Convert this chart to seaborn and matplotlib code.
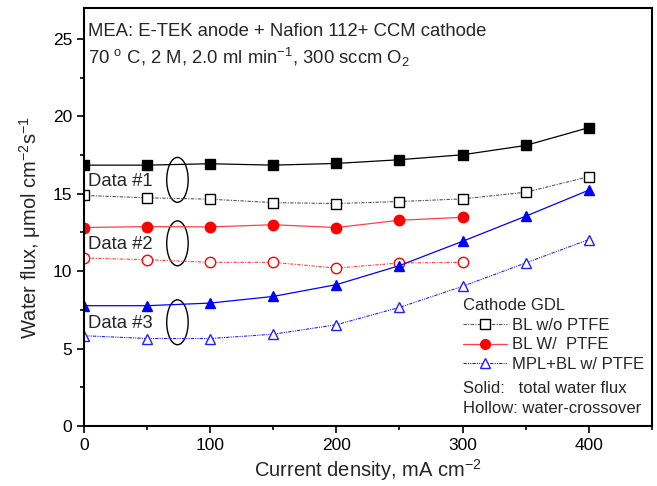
import numpy as np
import pandas as pd
import matplotlib.pyplot as plt
import seaborn as sns
from matplotlib.patches import Ellipse
from matplotlib.lines import Line2D
from matplotlib.ticker import MultipleLocator

sns.set_theme(style="ticks")
plt.rcParams['font.family'] = ['Liberation Sans', 'DejaVu Sans']
plt.rcParams['mathtext.fontset'] = 'custom'
plt.rcParams['mathtext.rm'] = 'Liberation Sans'
plt.rcParams['mathtext.it'] = 'Liberation Sans'

# data
current = [0, 50, 100, 150, 200, 250, 300, 350, 400]
bl_no_ptfe_total = [16.85, 16.85, 16.94, 16.85, 16.96, 17.2, 17.52, 18.12, 19.27]
bl_no_ptfe_cross = [14.89, 14.74, 14.65, 14.43, 14.37, 14.5, 14.67, 15.1, 16.1]
current_bl = [0, 50, 100, 150, 200, 250, 300]
bl_ptfe_total = [12.82, 12.88, 12.86, 13.0, 12.82, 13.29, 13.48]
bl_ptfe_cross = [10.85, 10.74, 10.57, 10.57, 10.2, 10.53, 10.57]
mpl_total = [7.77, 7.77, 7.94, 8.37, 9.13, 10.36, 11.93, 13.55, 15.23]
mpl_cross = [5.83, 5.65, 5.65, 5.93, 6.54, 7.66, 9.02, 10.53, 12.04]

labels = ['BL w/o PTFE', 'BL W/  PTFE', 'MPL+BL w/ PTFE']

fig = plt.figure(figsize=(6.57, 4.86), dpi=100)
ax = fig.add_axes([0.128, 0.1235, 0.864, 0.86])

dd = (0, (3, 1.2, 1, 1.2))
ddd = (0, (3, 1, 1, 1, 1, 1))

series = [
    (current, bl_no_ptfe_total, 'black', 's', True, '-', 0.9),
    (current, bl_no_ptfe_cross, '#555555', 's', False, dd, 0.8),
    (current_bl, bl_ptfe_total, '#ff4040', 'o', True, '-', 0.9),
    (current_bl, bl_ptfe_cross, '#ff4040', 'o', False, dd, 0.8),
    (current, mpl_total, '#0000ff', '^', True, '-', 0.9),
    (current, mpl_cross, '#2020ff', '^', False, ddd, 0.8),
]
for x, y, c, m, filled, ls, lw in series:
    df = pd.DataFrame({'x': x, 'y': y})
    mc = c if not c.startswith('#55') else 'black'
    if m == 'o':
        mc = '#ff0000'
    sns.lineplot(data=df, x='x', y='y', ax=ax, color=c, linestyle=ls, lw=lw,
                 marker=m, markersize=7 if m != 'o' else 7.5,
                 markerfacecolor=(mc if filled else 'white'),
                 markeredgecolor=mc, markeredgewidth=1.0)

ax.set_xlim(0, 450)
ax.set_ylim(0, 27)
ax.xaxis.set_major_locator(MultipleLocator(100))
ax.xaxis.set_minor_locator(MultipleLocator(50))
ax.yaxis.set_major_locator(MultipleLocator(5))
ax.yaxis.set_minor_locator(MultipleLocator(2.5))
ax.tick_params(which='both', direction='out', width=1.2, labelsize=12.5, colors='black')
ax.tick_params(which='major', length=5)
ax.tick_params(which='minor', length=3)
for s in ax.spines.values():
    s.set_linewidth(1.5)
    s.set_color('black')

ax.set_xlabel('Current density, mA cm$^{-2}$', fontsize=14.5, labelpad=3)
ax.set_ylabel('Water flux, $\\mu$mol cm$^{-2}$s$^{-1}$', fontsize=14.5)
ax.yaxis.set_label_coords(-0.072, 0.474)

ax.text(3, 25.5, 'MEA: E-TEK anode + Nafion 112+ CCM cathode', fontsize=13.3, va='center')
ax.text(3, 23.8, '70 $^{\\rm o}$ C, 2 M, 2.0 ml min$^{-1}$, 300 sccm O$_2$', fontsize=13.3, va='center')

ellipse_y = [15.9, 11.8, 6.7]
for i, ey in enumerate(ellipse_y):
    ax.add_patch(Ellipse((74, ey), 17, 2.9, fill=False, ec='black', lw=1))
    ax.text(3, ey - 0.1, f'Data #{i + 1}', fontsize=13.3, va='center')

handles = [
    Line2D([], [], color='#555555', ls=dd, lw=0.8, marker='s', mfc='white', mec='black', ms=6.5),
    Line2D([], [], color='#ff4040', ls='-', lw=0.9, marker='o', mfc='#ff0000', mec='#ff0000', ms=7),
    Line2D([], [], color='#2020ff', ls=ddd, lw=0.8, marker='^', mfc='white', mec='#2020ff', ms=6.5),
]
leg = ax.legend(handles, labels, title='Cathode GDL', loc='upper left',
                bbox_to_anchor=(0.668, 0.306), frameon=False, fontsize=12,
                title_fontsize=12, handlelength=2.6, handletextpad=0.3,
                labelspacing=0.28, borderaxespad=0, borderpad=0, alignment='left')
ax.text(0.668, 0.090, 'Solid:   total water flux', transform=ax.transAxes, fontsize=12, va='center')
ax.text(0.668, 0.043, 'Hollow: water-crossover', transform=ax.transAxes, fontsize=12, va='center')

fig.savefig('out.png', dpi=100)
